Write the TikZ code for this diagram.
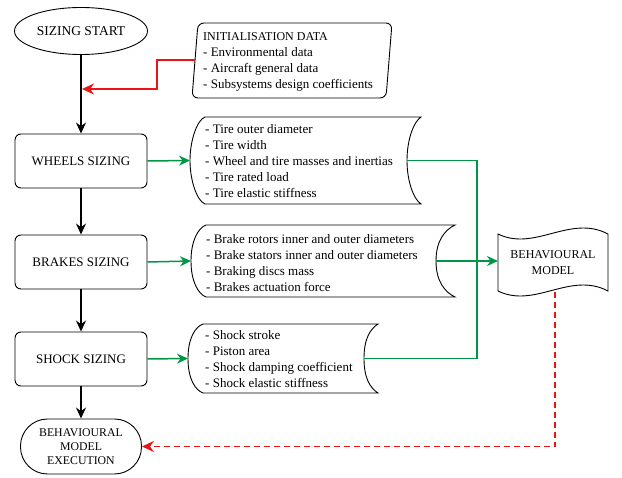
\documentclass[tikz,border=0pt]{standalone}
\usepackage{fontspec}
\setmainfont{Liberation Serif}
\usetikzlibrary{shapes.geometric,arrows.meta}
\definecolor{fgreen}{RGB}{0,150,70}
\definecolor{fred}{RGB}{235,20,20}
% stored-data (tape) outline: #1 top-left x, #2 right x, #3 top y, #4 bottom y, #5 inner depth of right side
\newcommand\tapeshape[5]{%
  \draw[outline] (#1,#3) -- (#2,#3)
    .. controls ({#2-0.55*#5},{#3+5}) and ({#2-#5},{(#3+#4)/2-20}) .. ({#2-#5},{(#3+#4)/2})
    .. controls ({#2-#5},{(#3+#4)/2+20}) and ({#2-0.55*#5},{#4-5}) .. (#2,#4)
    -- (#1,#4)
    .. controls ({#1-8},{#4-3}) and ({#1-15},{(#3+#4)/2+20}) .. ({#1-15},{(#3+#4)/2})
    .. controls ({#1-15},{(#3+#4)/2-20}) and ({#1-8},{#3+3}) .. cycle;}
\begin{document}
\begin{tikzpicture}[x=1pt,y=-1pt,
  every node/.style={inner sep=0pt},
  outline/.style={draw, line width=0.9pt},
  term/.style={outline, ellipse, align=center},
  proc/.style={outline, rounded corners=6pt, minimum width=132pt, minimum height=54pt,
    font=\fontsize{13}{16}\selectfont},
  listtext/.style={anchor=west, align=left, font=\fontsize{13}{16}\selectfont},
  flow/.style={line width=1.7pt, -{Stealth[length=11pt,width=10pt]}},
  gflow/.style={fgreen, line width=1.5pt},
  garrow/.style={gflow, -{Stealth[length=11pt,width=10pt]}},
  rflow/.style={fred, line width=1.5pt, -{Stealth[length=12pt,width=11pt]}},
]
\useasboundingbox (0,0) rectangle (622,478);

% main column
\node[term, minimum width=133pt, minimum height=47pt, font=\fontsize{13.5}{16}\selectfont] (start) at (81,31) {SIZING START};
\node[proc] (wheels) at (81,161) {WHEELS SIZING};
\node[proc] (brakes) at (81,262) {BRAKES SIZING};
\node[proc] (shock) at (81,359) {SHOCK SIZING};
\node[outline, rounded corners=27pt, minimum width=121pt, minimum height=55pt, align=center,
  font=\fontsize{11.8}{14}\selectfont] (bme) at (81,446.5) {BEHAVIOURAL\\MODEL\\EXECUTION};

% initialisation data
\draw[outline, rounded corners=6pt] (198,23) -- (392,23) -- (386,98) -- (192,98) -- cycle;
\node[listtext] (init) at (203,61.5) {{\fontsize{12}{16}\selectfont INITIALISATION DATA}\\- Environmental data\\- Aircraft general data\\- Subsystems design coefficients};
\coordinate (initW) at (195,60);
\coordinate (redc) at (157,60);
\coordinate (redhit) at (82,89);

% data tapes
\tapeshape{205}{421}{117}{204}{14}
\node[listtext] (tires) at (205,161) {- Tire outer diameter\\- Tire width\\- Wheel and tire masses and inertias\\- Tire rated load\\- Tire elastic stiffness};
\coordinate (t1W) at (190,160.5);
\coordinate (t1E) at (407,160.5);

\tapeshape{206}{455}{225}{297}{19}
\node[listtext] (brk) at (206,263) {- Brake rotors inner and outer diameters\\- Brake stators inner and outer diameters\\- Braking discs mass\\- Brakes actuation force};
\coordinate (t2W) at (191,261);
\coordinate (t2E) at (436,261);

\tapeshape{203}{378}{324}{393}{14}
\node[listtext] (shk) at (205,359) {- Shock stroke\\- Piston area\\- Shock damping coefficient\\- Shock elastic stiffness};
\coordinate (t3W) at (188,358.5);
\coordinate (t3E) at (364,358.5);

% behavioural model
\draw[outline] (498,234) .. controls (535,252) and (570,214) .. (608,234) -- (608,291)
  .. controls (570,271) and (535,309) .. (498,291) -- cycle;
\node[align=center, font=\fontsize{12}{16}\selectfont] (bm) at (553,263) {BEHAVIOURAL\\MODEL};
\coordinate (bmW) at (498,261);
\coordinate (bmS) at (555,292);
\coordinate (bus) at (477,358.5);

% black flow
\draw[flow] (start.south) -- (wheels.north);
\draw[flow] (wheels.south) -- (brakes.north);
\draw[flow] (brakes.south) -- (shock.north);
\draw[flow] (shock.south) -- (bme.north);

% red initialisation arrow
\draw[rflow] (initW) -- (redc) |- (redhit);

% green outputs
\draw[garrow] (wheels.east) -- (t1W);
\draw[garrow] (brakes.east) -- (t2W);
\draw[garrow] (shock.east) -- (t3W);
\draw[gflow] (t1E) -| (bus) -- (t3E);
\draw[garrow] (t2E) -- (bmW);

% red dashed feedback
\draw[rflow, dash pattern=on 6pt off 4pt] (bmS) |- (bme.east);
\end{tikzpicture}
\end{document}
